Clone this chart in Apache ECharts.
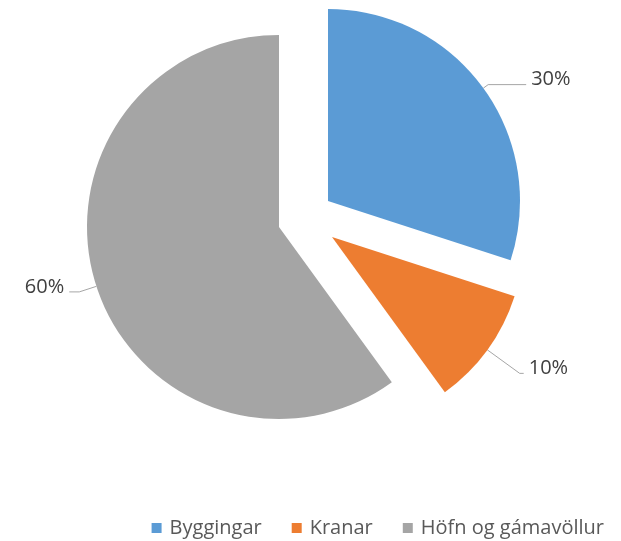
<!DOCTYPE html>
<html>
<head>
<meta charset="utf-8">
<script src="https://cdn.jsdelivr.net/npm/echarts@6/dist/echarts.min.js"></script>
<style>
  html, body { margin: 0; padding: 0; background: #fff; }
  #chart { width: 621px; height: 541px; }
</style>
</head>
<body>
<div id="chart"></div>
<script>
// Gögn (lesin af myndinni)
const categories = ['Byggingar', 'Kranar', 'Höfn og gámavöllur'];
const values = [30, 10, 60];

// Office litir
const COLORS = ['#5B9BD5', '#ED7D31', '#A5A5A5'];
const LABEL_COLOR = '#404040';
const LEGEND_COLOR = '#595959';
const LEADER_COLOR = '#A6A6A6';
const FONT = '"Open Sans", "Noto Sans", sans-serif';

// Sprengd kaka: hver sneið fær sína eigin miðju (Excel "point explosion")
const SLICE_CENTERS = [[328, 201], [332, 237], [279, 227]];
const RADIUS = 192;
const LEADERS = [
  { length: 6, length2: 38 },
  { length: 40, length2: 4 },
  { length: 18, length2: 10 },
];

// Ein pie-röð á hverja sneið; hinar sneiðarnar ósýnilegar svo hornin haldist rétt
const series = categories.map((_, owner) => ({
  type: 'pie',
  center: SLICE_CENTERS[owner],
  radius: RADIUS,
  startAngle: 90,
  clockwise: true,
  avoidLabelOverlap: false,
  silent: true,
  animation: false,
  data: categories.map((name, i) => {
    const mine = i === owner;
    return {
      name,
      value: values[i],
      itemStyle: { color: mine ? COLORS[i] : 'rgba(0,0,0,0)' },
      label: { show: mine },
      labelLine: { show: mine },
    };
  }),
  label: {
    position: 'outside',
    // tóm aukalína lyftir textanum aðeins upp fyrir leiðarlínuna, eins og í Excel
    formatter: '{v|{c}%}\n{s|}',
    rich: {
      v: { color: LABEL_COLOR, fontFamily: FONT, fontSize: 20, lineHeight: 26 },
      s: { fontSize: 1, lineHeight: 10 },
    },
  },
  labelLine: {
    ...LEADERS[owner],
    smooth: false,
    lineStyle: { color: LEADER_COLOR, width: 1 },
  },
}));

const chart = echarts.init(document.getElementById('chart'));
chart.setOption({
  backgroundColor: '#fff',
  animation: false,
  legend: {
    right: 12,
    top: 513,
    icon: 'rect',
    itemWidth: 10,
    itemHeight: 10,
    itemGap: 30,
    textStyle: {
      color: LEGEND_COLOR,
      fontFamily: FONT,
      fontSize: 20,
      padding: [0, 0, 0, 3],
    },
    data: categories.map((name, i) => ({
      name,
      itemStyle: { color: COLORS[i], opacity: 1 },
    })),
  },
  series,
});
</script>
</body>
</html>
